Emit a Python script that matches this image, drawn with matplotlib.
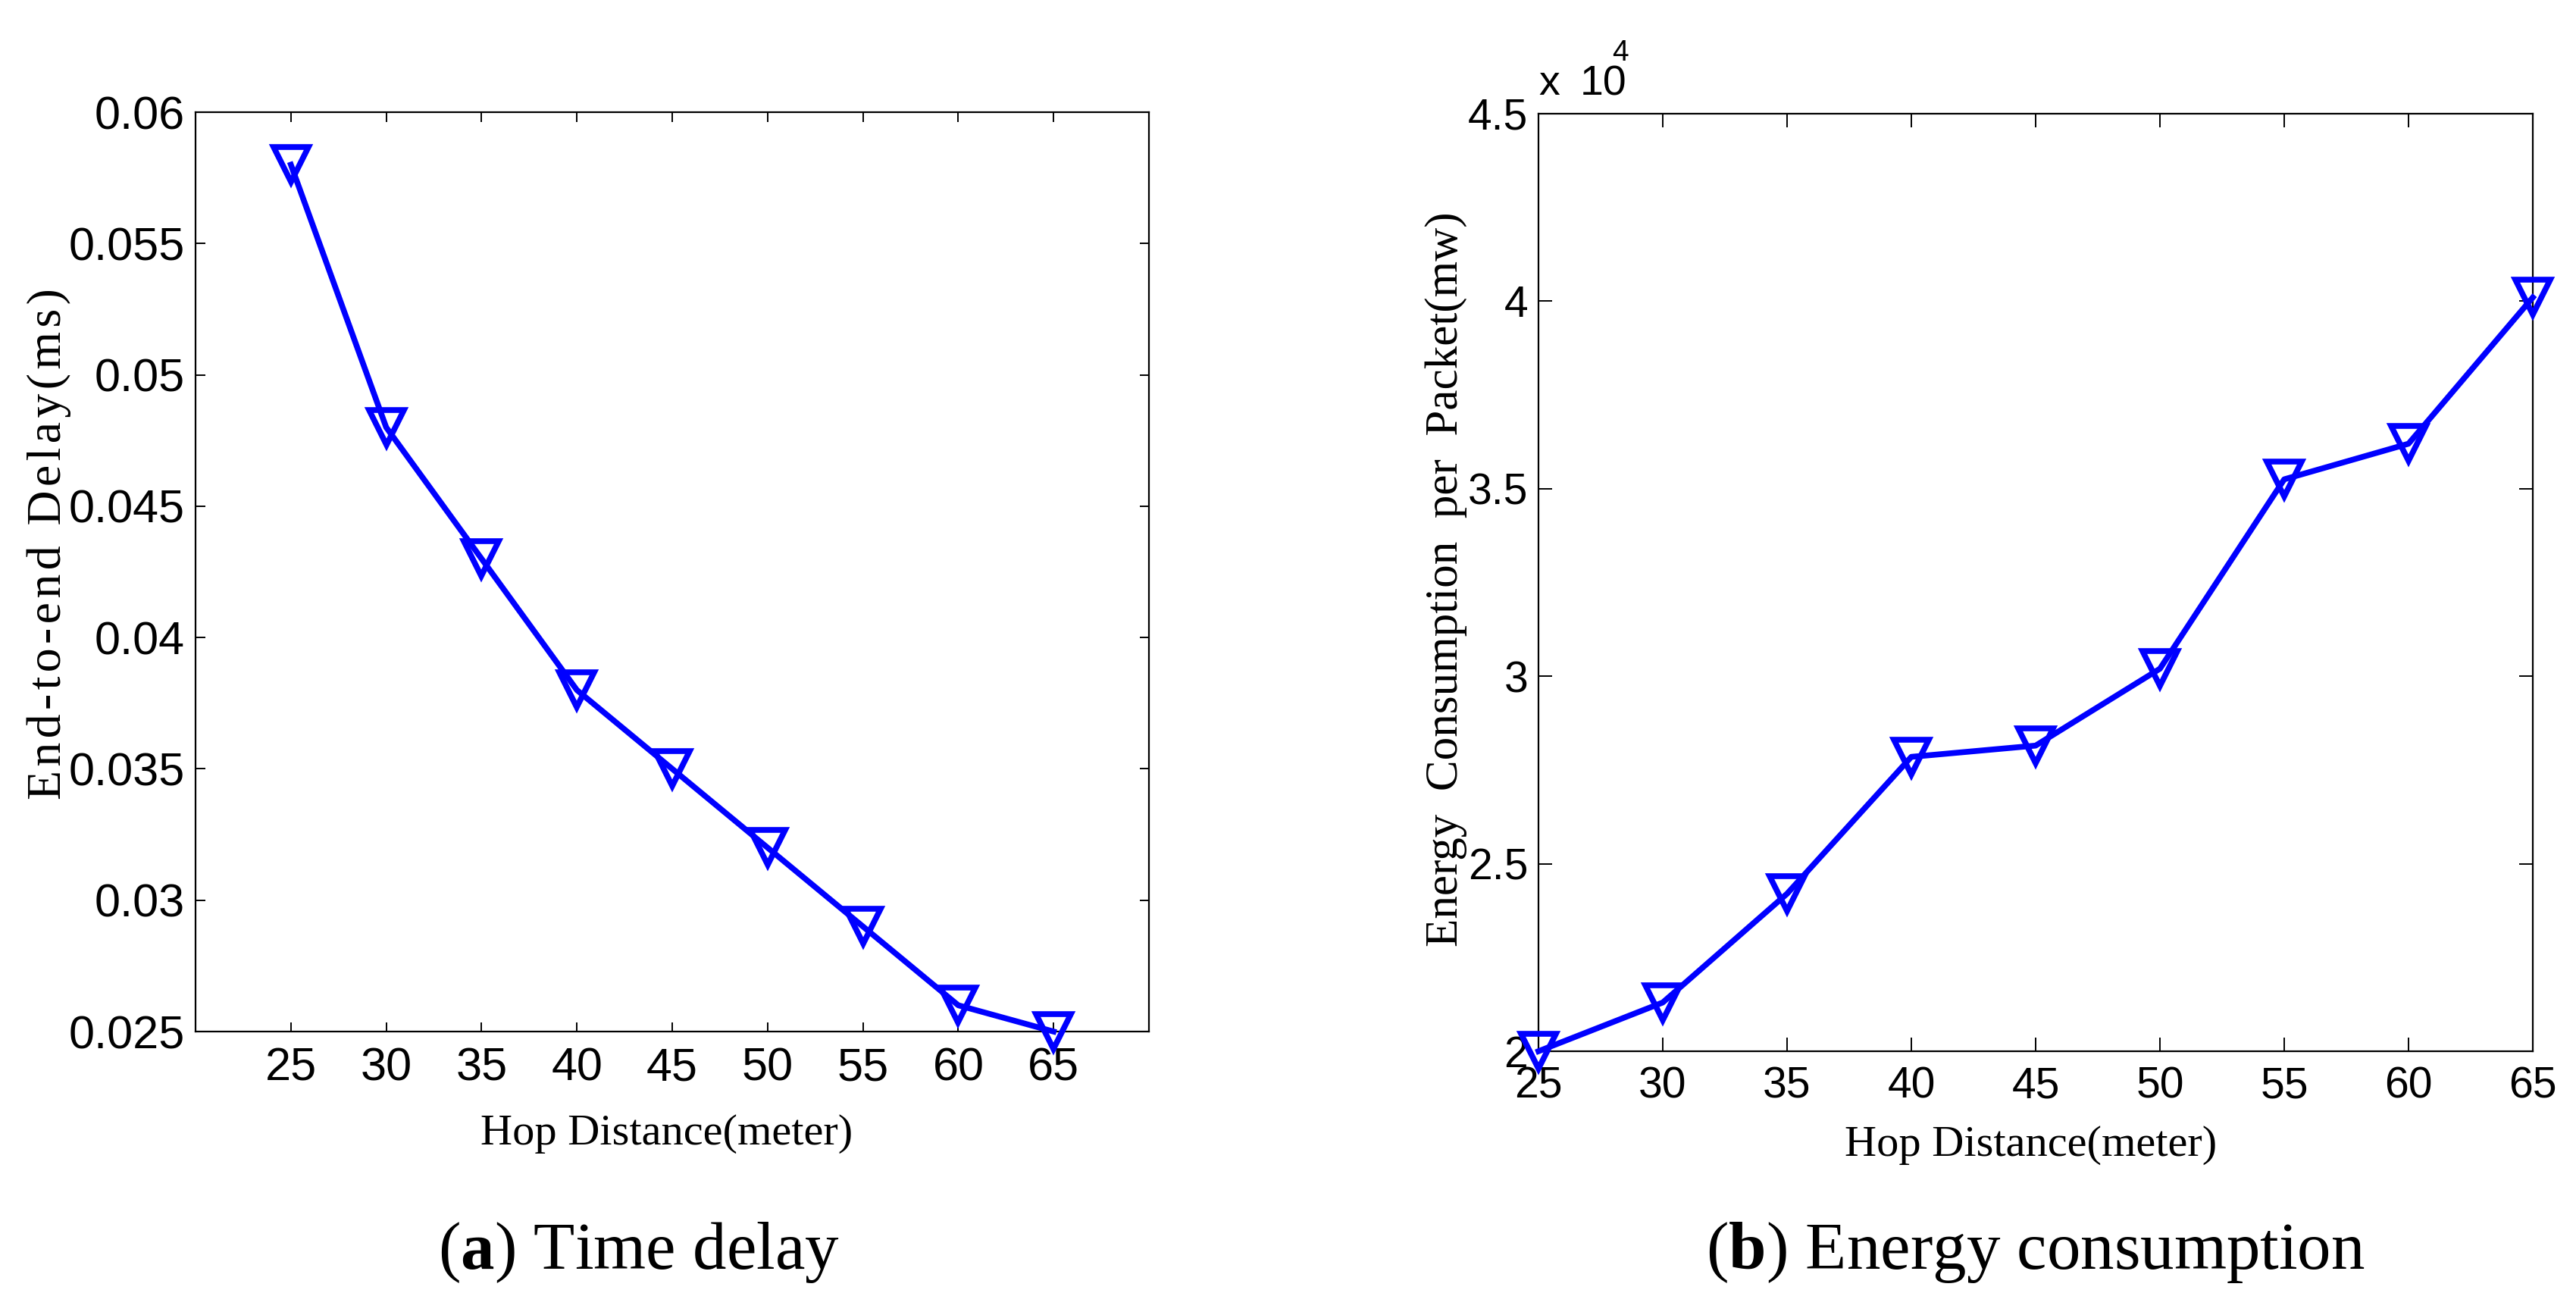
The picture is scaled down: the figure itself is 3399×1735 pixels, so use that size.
import numpy as np
import matplotlib
matplotlib.use('Agg')
import matplotlib.pyplot as plt
from matplotlib.ticker import FixedLocator, FuncFormatter

plt.rcParams['mathtext.fontset'] = 'custom'
plt.rcParams['mathtext.rm'] = 'Liberation Serif'
plt.rcParams['mathtext.bf'] = 'Liberation Serif:bold'

# data
hop = [25, 30, 35, 40, 45, 50, 55, 60, 65]
delay = [0.058, 0.048, 0.043, 0.038, 0.035, 0.032, 0.029, 0.026, 0.025]
energy = [20000, 21300, 24200, 27850, 28150, 30200, 35250, 36200, 40100]

delay_ticks = [0.025, 0.03, 0.035, 0.04, 0.045, 0.05, 0.055, 0.06]
energy_ticks = [20000, 25000, 30000, 35000, 40000, 45000]

W, H = 3399, 1735
tick_font = ['Liberation Sans Narrow', 'Liberation Sans']
label_font = ['Liberation Serif', 'DejaVu Serif']
blue = '#0000ff'

fig = plt.figure(figsize=(W / 100, H / 100), dpi=100)


def box(x0, y0, x1, y1):
    # pixel box (top-left origin) -> figure fraction rect
    return [x0 / W, 1 - y1 / H, (x1 - x0) / W, (y1 - y0) / H]


def ftext(x, y, s, **kw):
    fig.text(x / W, 1 - y / H, s, **kw)


def spaced(s, sep='\u200a'):
    # MATLAB export has wide letter spacing on some labels
    return sep.join(s)


def style(ax, ticklen, xpad, ypad, fs):
    for sp in ax.spines.values():
        sp.set_linewidth(1.6)
    ax.tick_params(direction='in', top=True, right=True, length=ticklen,
                   width=1.4, labelsize=fs)
    ax.tick_params(axis='x', pad=xpad)
    ax.tick_params(axis='y', pad=ypad)
    for lab in ax.get_xticklabels() + ax.get_yticklabels():
        lab.set_family(tick_font)


# (a) time delay
ax1 = fig.add_axes(box(258, 148, 1516, 1361))
ax1.plot(hop, delay, color=blue, lw=5.5, marker='v', ms=33, mfc='none',
         mec=blue, mew=5.5, clip_on=False, zorder=3)
ax1.set_xlim(20, 70)
ax1.set_ylim(0.025, 0.06)
ax1.xaxis.set_major_locator(FixedLocator(hop))
ax1.yaxis.set_major_locator(FixedLocator(delay_ticks))
ax1.yaxis.set_major_formatter(FuncFormatter(lambda v, p: '%g' % v))
style(ax1, 9, 15, 10, 44)

# (b) energy consumption
ax2 = fig.add_axes(box(2030, 150, 3342, 1387))
ax2.plot(hop, energy, color=blue, lw=5.5, marker='v', ms=33, mfc='none',
         mec=blue, mew=5.5, clip_on=False, zorder=3)
ax2.set_xlim(25, 65)
ax2.set_ylim(20000, 45000)
ax2.xaxis.set_major_locator(FixedLocator(hop))
ax2.yaxis.set_major_locator(FixedLocator(energy_ticks))
ax2.yaxis.set_major_formatter(FuncFormatter(lambda v, p: '%g' % (v / 1e4)))
style(ax2, 13, 14, 10, 41)

# MATLAB style exponent
ftext(2030, 125, 'x', fontsize=40, family=tick_font)
ftext(2085, 125, '10', fontsize=40, family=tick_font)
ftext(2127, 80, '4', fontsize=28, family=tick_font)

# axis labels
ftext(65, 718, spaced('End-to-end Delay(ms)'), rotation=90, ha='center',
      va='center', fontsize=46, family=label_font)
ftext(880, 1496, 'Hop Distance(meter)', ha='center', va='center',
      fontsize=42, family=label_font)
ftext(1908, 764, 'Energy  Consumption  per  Packet(mw)', rotation=90,
      ha='center', va='center', fontsize=44, family=label_font)
ftext(2680, 1511, 'Hop Distance(meter)', ha='center', va='center',
      fontsize=42, family=label_font)

# captions
ftext(843, 1652, r'($\mathbf{a}$) Time delay', ha='center', va='center',
      fontsize=64, family=label_font)
ftext(2686, 1652, r'($\mathbf{b}$) Energy consumption', ha='center',
      va='center', fontsize=64, family=label_font)

fig.savefig('out.png', dpi=100)
